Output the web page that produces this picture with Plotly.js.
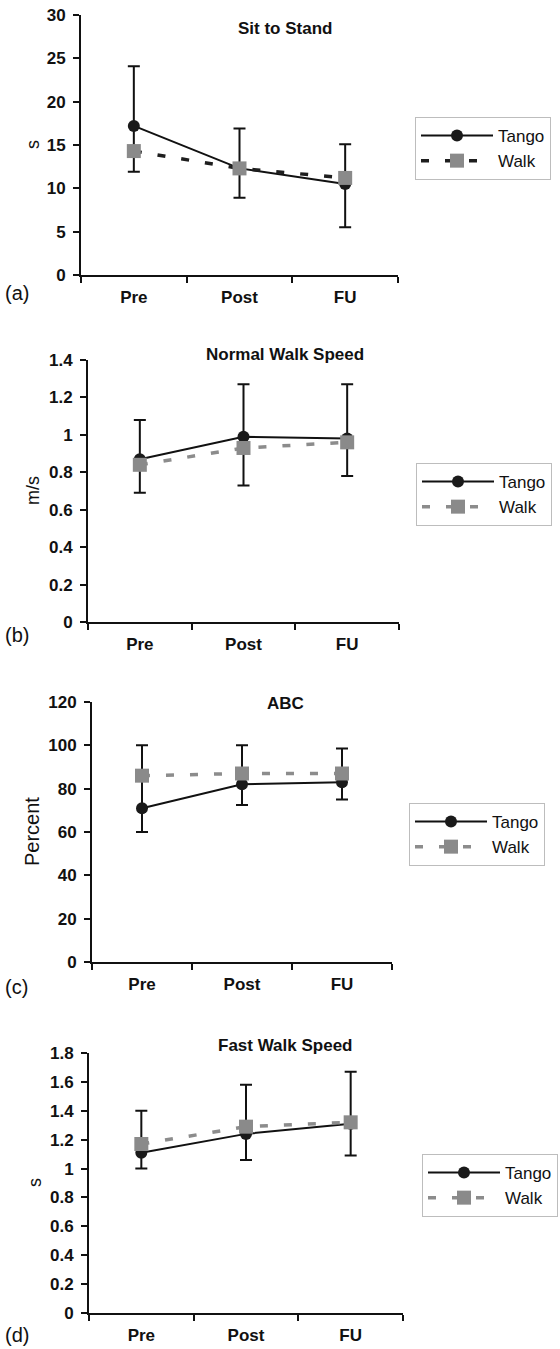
<!DOCTYPE html>
<html>
<head>
<meta charset="utf-8">
<script src="https://cdn.plot.ly/plotly-3.0.1.min.js"></script>
<style>html,body{margin:0;padding:0;background:#fff;}#chart{width:560px;height:1349px;}</style>
</head>
<body>
<div id="chart"></div>
<script>
// ---- data ----
const categories = ['Pre', 'Post', 'FU'];
const seriesNames = ['Tango', 'Walk'];

const panelTitles = ['Sit to Stand', 'Normal Walk Speed', 'ABC', 'Fast Walk Speed'];
const panelLetters = ['(a)', '(b)', '(c)', '(d)'];
const yTitles = ['s', 'm/s', 'Percent', 's'];

const sitTango = [17.2, 12.3, 10.5];
const sitWalk = [14.3, 12.3, 11.2];
const sitErrHigh = [24.1, 16.9, 15.1];
const sitErrLow = [11.9, 8.9, 5.5];

const normalTango = [0.87, 0.99, 0.98];
const normalWalk = [0.84, 0.93, 0.96];
const normalErrHigh = [1.08, 1.27, 1.27];
const normalErrLow = [0.69, 0.73, 0.78];

const abcTango = [71, 82, 83];
const abcWalk = [86, 87, 87];
const abcErrHigh = [100, 100, 98.5];
const abcErrLow = [60, 72.5, 75];

const fastTango = [1.11, 1.24, 1.31];
const fastWalk = [1.17, 1.29, 1.32];
const fastErrHigh = [1.4, 1.58, 1.67];
const fastErrLow = [1.0, 1.06, 1.09];

const yMax = [30, 1.4, 120, 1.8];
const yStep = [5, 0.2, 20, 0.2];

// ---- layout geometry (pixels) ----
const W = 560, H = 1349;
const geom = [
  {x0: 81, x1: 398, yt: 15, yb: 275, legX: 415, legY: 117, walkLine: '#1e1e1e', titleY: 29, letterY: 293, yTitleX: 33},
  {x0: 88, x1: 399, yt: 360, yb: 622, legX: 416, legY: 463, walkLine: '#8c8c8c', titleY: 355, letterY: 635, yTitleX: 33},
  {x0: 92, x1: 392, yt: 702, yb: 962, legX: 409, legY: 803, walkLine: '#8c8c8c', titleY: 703, letterY: 987, yTitleX: 32},
  {x0: 89, x1: 403, yt: 1053, yb: 1313, legX: 422, legY: 1154, walkLine: '#8c8c8c', titleY: 1045, letterY: 1335, yTitleX: 35}
];
const px = x => x / W;
const py = y => 1 - y / H;

const tangoData = [sitTango, normalTango, abcTango, fastTango];
const walkData = [sitWalk, normalWalk, abcWalk, fastWalk];
const highData = [sitErrHigh, normalErrHigh, abcErrHigh, fastErrHigh];
const lowData = [sitErrLow, normalErrLow, abcErrLow, fastErrLow];

const FONT = 'Arial, "Liberation Sans", sans-serif';
const traces = [];
const layout = {
  width: W, height: H,
  margin: {l: 0, r: 0, t: 0, b: 0},
  paper_bgcolor: '#fff', plot_bgcolor: '#fff',
  font: {family: FONT, color: '#111'},
  annotations: [],
  showlegend: true
};

for (let i = 0; i < 4; i++) {
  const g = geom[i];
  const sfx = i === 0 ? '' : String(i + 1);
  const xa = 'x' + sfx, ya = 'y' + sfx;
  const legName = i === 0 ? 'legend' : 'legend' + (i + 1);
  const t = tangoData[i], w = walkData[i];
  traces.push({
    type: 'scatter', mode: 'lines+markers', name: seriesNames[0],
    x: categories, y: t, xaxis: xa, yaxis: ya, legend: legName, legendgroup: 't' + i,
    line: {color: '#111', width: 2},
    marker: {symbol: 'circle', size: 12, color: '#1a1a1a'},
    error_y: {
      type: 'data', symmetric: false,
      array: highData[i].map((v, k) => v - t[k]),
      arrayminus: t.map((v, k) => v - lowData[i][k]),
      color: '#111', thickness: 2, width: 6
    }
  });
  traces.push({
    type: 'scatter', mode: 'lines+markers', name: seriesNames[1],
    x: categories, y: w, xaxis: xa, yaxis: ya, legend: legName, legendgroup: 'w' + i,
    line: {color: g.walkLine, width: 3.5, dash: '8px,16px'},
    marker: {symbol: 'square', size: 14, color: '#8a8a8a'}
  });
  layout['xaxis' + sfx] = {
    domain: [px(g.x0), px(g.x1)], anchor: ya,
    type: 'category', categoryarray: categories, range: [-0.5, 2.5],
    tickson: 'boundaries', ticks: 'outside', ticklen: 6, tickwidth: 2, tickcolor: '#111',
    showline: true, linewidth: 2, linecolor: '#111', showgrid: false, zeroline: false,
    tickfont: {family: FONT, size: 17, weight: 'bold', color: '#111'},
    ticklabelstandoff: 6, fixedrange: true
  };
  layout['yaxis' + sfx] = {
    domain: [py(g.yb), py(g.yt)], anchor: xa,
    range: [0, yMax[i]], dtick: yStep[i], tick0: 0,
    ticks: 'outside', ticklen: 6, tickwidth: 2, tickcolor: '#111',
    showline: true, linewidth: 2, linecolor: '#111', showgrid: false, zeroline: false,
    tickfont: {family: FONT, size: 17, weight: 'bold', color: '#111'},
    ticklabelstandoff: 4, fixedrange: true
  };
  layout[legName] = {
    x: px(g.legX), y: py(g.legY), xanchor: 'left', yanchor: 'top',
    xref: 'paper', yref: 'paper',
    bordercolor: '#bdbdbd', borderwidth: 1, bgcolor: '#fff',
    font: {family: FONT, size: 17, color: '#111'},
    itemwidth: 72, tracegroupgap: 3, traceorder: 'normal'
  };
  layout.annotations.push({
    text: '<b>' + panelTitles[i] + '</b>', xref: 'paper', yref: 'paper',
    x: px(285), y: py(g.titleY), xanchor: 'center', yanchor: 'middle',
    showarrow: false, font: {family: FONT, size: 17, color: '#111'}
  });
  layout.annotations.push({
    text: panelLetters[i], xref: 'paper', yref: 'paper',
    x: px(3), y: py(g.letterY), xanchor: 'left', yanchor: 'middle',
    showarrow: false, font: {family: FONT, size: 20, color: '#111'}
  });
  layout.annotations.push({
    text: yTitles[i], xref: 'paper', yref: 'paper', textangle: -90,
    x: px(g.yTitleX), y: py((g.yt + g.yb) / 2), xanchor: 'center', yanchor: 'middle',
    showarrow: false, font: {family: FONT, size: i === 2 ? 20 : 18, color: '#111'}
  });
}

Plotly.newPlot('chart', traces, layout, {displayModeBar: false, staticPlot: true});
</script>
</body>
</html>
